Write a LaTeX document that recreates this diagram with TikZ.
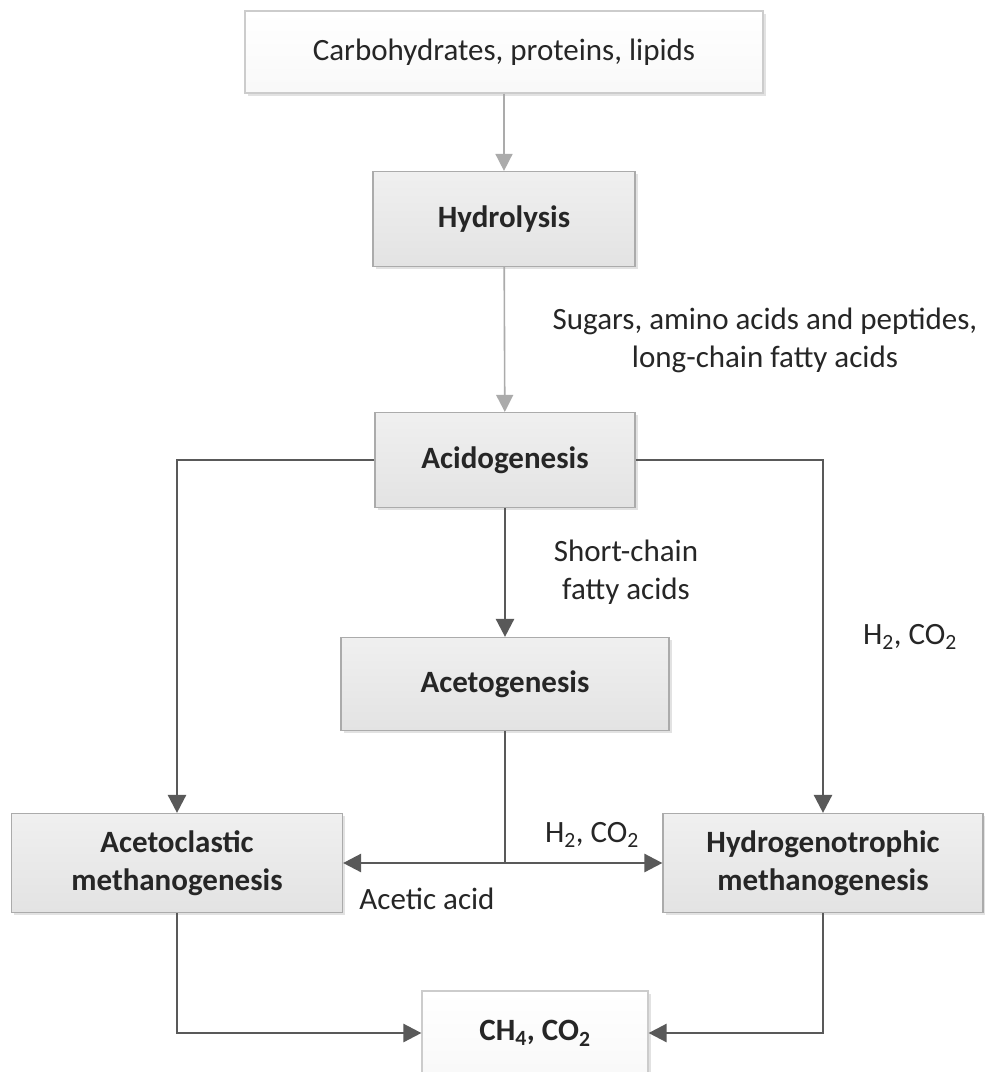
\documentclass[tikz,border=0pt]{standalone}
\usepackage{fontspec}
\setmainfont{Carlito}
\usetikzlibrary{arrows.meta, shadows}

\definecolor{inktext}{HTML}{262626}
\definecolor{edgegray}{HTML}{ABABAB}
\definecolor{linegray}{HTML}{595959}
\definecolor{lightline}{HTML}{ABABAB}

\begin{document}
\begin{tikzpicture}[
    x=1pt, y=-1pt,
    font=\fontsize{31}{38}\selectfont,
    text=inktext,
    stage/.style={
        rectangle, draw=edgegray, line width=1.2pt,
        top color=gray!12, bottom color=gray!22,
        inner sep=0pt, align=center,
        font=\fontsize{31}{38}\selectfont\bfseries,
        drop shadow={shadow xshift=2.5pt, shadow yshift=-2.5pt, fill=black!22}
    },
    plain/.style={stage, top color=white, bottom color=gray!5, draw=gray!40},
    flow/.style={-{Triangle[length=18pt, width=18pt]}, line width=2.6pt, draw=linegray},
    link/.style={line width=2.6pt, draw=linegray},
    thinflow/.style={-{Triangle[length=17pt, width=17pt]}, line width=1.6pt, draw=lightline},
    note/.style={align=center, inner sep=0pt}
]
\useasboundingbox[fill=white] (0,0) rectangle (985,1072);

% ============ Stages ============
\node[plain, minimum width=518pt, minimum height=82pt, font=\fontsize{31}{38}\selectfont] (substrate) at (504,52) {Carbohydrates, proteins, lipids};
\node[stage, minimum width=262pt, minimum height=95pt] (hydrolysis) at (504,219) {Hydrolysis};
\node[stage, minimum width=260pt, minimum height=95pt] (acidogenesis) at (505,460) {Acidogenesis};
\node[stage, minimum width=328pt, minimum height=93pt] (acetogenesis) at (505,684) {Acetogenesis};
\node[stage, minimum width=331pt, minimum height=99pt] (acetoclastic) at (177,863) {Acetoclastic\\methanogenesis};
\node[stage, minimum width=320pt, minimum height=99pt] (hydrogenotrophic) at (823,863) {Hydrogenotrophic\\methanogenesis};
\node[plain, minimum width=226pt, minimum height=84pt] (biogas) at (535,1033) {CH\textsubscript{4}, CO\textsubscript{2}};

% ============ Labels ============
\node[note] (sugars) at (765,340) {Sugars, amino acids and peptides,\\long-chain fatty acids};
\node[note] (scfa) at (626,572) {Short-chain\\fatty acids};
\node[note] (gasright) at (910,637) {H\textsubscript{2}, CO\textsubscript{2}};
\node[note] (gasmid) at (592,835) {H\textsubscript{2}, CO\textsubscript{2}};
\node[note] (acetic) at (427,899) {Acetic acid};

% ============ Flow ============
\draw[thinflow] (substrate.south -| hydrolysis) -- (hydrolysis.north);
\draw[thinflow] (hydrolysis) -- (acidogenesis);
\draw[flow] (acidogenesis) -- (acetogenesis);
\draw[flow] (acidogenesis.west) -| (acetoclastic.north);
\draw[flow] (acidogenesis.east) -| (hydrogenotrophic.north);
\coordinate (split) at (acetogenesis.south |- acetoclastic.east);
\draw[link] (acetogenesis.south) -- (split);
\draw[flow] (split) -- (acetoclastic.east);
\draw[flow] (split) -- (hydrogenotrophic.west);
\draw[flow] (acetoclastic.south) |- (biogas.west);
\draw[flow] (hydrogenotrophic.south) |- (biogas.east);

\end{tikzpicture}
\end{document}
